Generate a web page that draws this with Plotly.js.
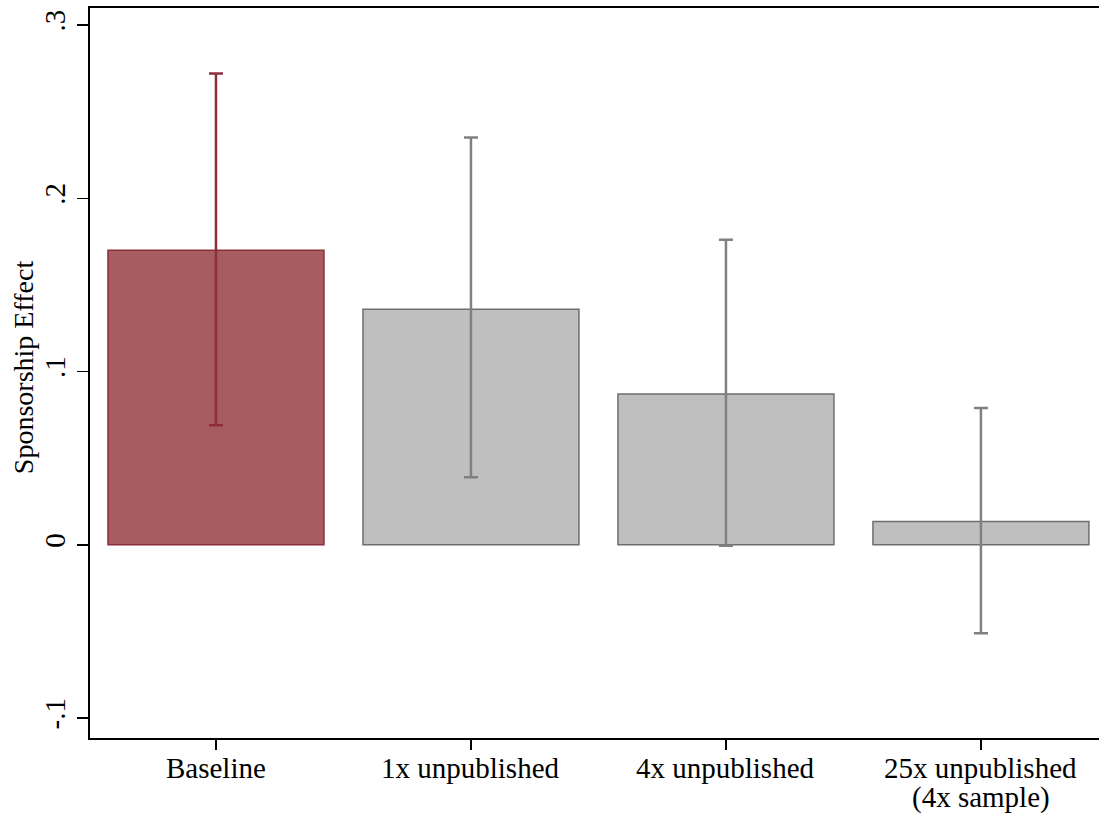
<!DOCTYPE html>
<html>
<head>
<meta charset="utf-8">
<script src="https://cdn.plot.ly/plotly-3.0.1.min.js"></script>
<style>html,body{margin:0;padding:0;background:#fff}#chart{width:1099px;height:813px}</style>
</head>
<body>
<div id="chart"></div>
<script>
const categories = ["Baseline", "1x unpublished", "4x unpublished", "25x unpublished"];
const categorySubLabels = ["", "", "", "(4x sample)"];
const effect = [0.170, 0.136, 0.087, 0.0135];
const ciHigh = [0.272, 0.235, 0.176, 0.079];
const ciLow = [0.069, 0.039, -0.0005, -0.051];
const yTickVals = [-0.1, 0, 0.1, 0.2, 0.3];
const yTickText = ["-.1", "0", ".1", ".2", ".3"];
const yTitle = "Sponsorship Effect";

const FONT = "Liberation Serif, Times New Roman, serif";

function makeTrace(idx, fill, line, errColor) {
  return {
    type: "bar",
    x: idx.map(i => categories[i]),
    y: idx.map(i => effect[i]),
    width: 0.847,
    marker: {color: fill, line: {color: line, width: 1.5}},
    error_y: {
      type: "data", symmetric: false,
      array: idx.map(i => ciHigh[i] - effect[i]),
      arrayminus: idx.map(i => effect[i] - ciLow[i]),
      color: errColor, thickness: 2.5, width: 7
    },
    hoverinfo: "none",
    showlegend: false
  };
}

const data = [
  makeTrace([0], "#a65c61", "#8c2f3a", "#8c2f3a"),
  makeTrace([1, 2, 3], "#bfbfbf", "#6e6e6e", "#808080")
];

const annotations = [];
categories.forEach((c, i) => {
  annotations.push({
    x: c, xref: "x", y: 0, yref: "paper", yanchor: "middle", xanchor: "center",
    yshift: -30, text: c, showarrow: false,
    font: {family: FONT, size: 29, color: "#000"}
  });
  if (categorySubLabels[i]) {
    annotations.push({
      x: c, xref: "x", y: 0, yref: "paper", yanchor: "middle", xanchor: "center",
      yshift: -59, text: categorySubLabels[i], showarrow: false,
      font: {family: FONT, size: 29, color: "#000"}
    });
  }
});
annotations.push({
  x: 0, xref: "paper", xanchor: "center", xshift: -67,
  y: 0.508, yref: "paper", yanchor: "middle",
  text: yTitle, textangle: -90, showarrow: false,
  font: {family: FONT, size: 28, color: "#000"}
});

const layout = {
  width: 1099, height: 813,
  margin: {l: 90, r: 0, t: 8, b: 75},
  paper_bgcolor: "#fff", plot_bgcolor: "#fff",
  barmode: "overlay",
  font: {family: FONT, size: 29, color: "#000"},
  xaxis: {
    type: "category",
    categoryorder: "array", categoryarray: categories,
    range: [-0.494, 3.463],
    showline: true, linecolor: "#000", linewidth: 2, mirror: true,
    ticks: "outside", ticklen: 10, tickwidth: 1.5, tickcolor: "#000",
    showgrid: false, zeroline: false, showticklabels: false
  },
  yaxis: {
    range: [-0.1115, 0.3098],
    tickvals: yTickVals, ticktext: yTickText,
    tickangle: -90,
    showline: true, linecolor: "#000", linewidth: 2,
    ticks: "outside", ticklen: 11, tickwidth: 1.5, tickcolor: "#000",
    showgrid: false, zeroline: false,
    tickfont: {family: FONT, size: 29}
  },
  annotations: annotations
};

Plotly.newPlot("chart", data, layout, {displayModeBar: false, staticPlot: true});
</script>
</body>
</html>
